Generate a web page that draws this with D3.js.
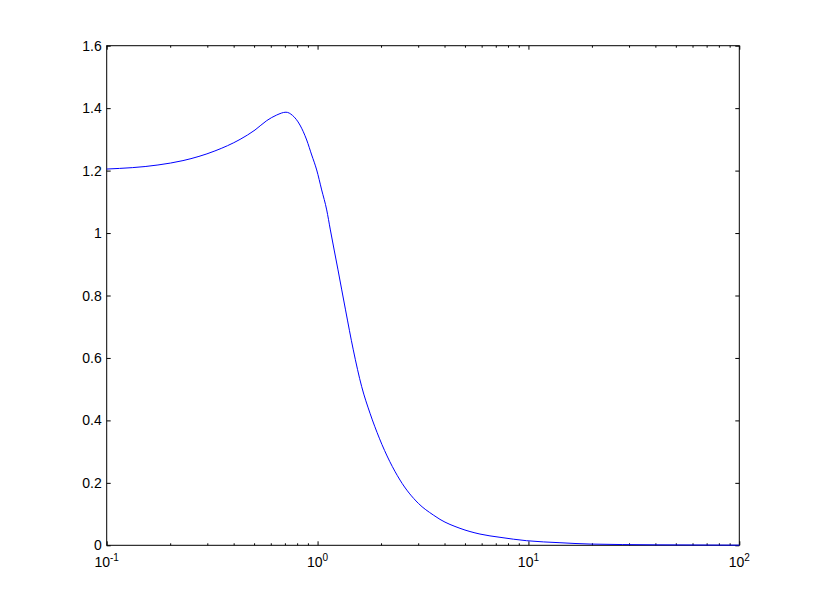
<!DOCTYPE html>
<html>
<head>
<meta charset="utf-8">
<script src="https://cdn.jsdelivr.net/npm/d3@7"></script>
<style>
  html, body { margin: 0; padding: 0; background: #fff; }
  svg { display: block; }
  text { font-family: "Liberation Sans", Arial, sans-serif; fill: #000; }
</style>
</head>
<body>
<svg id="chart" width="817" height="612"></svg>
<script>
// ---- data ----
const xValues = [0.1, 0.175, 0.23, 0.326, 0.429, 0.505, 0.574, 0.64, 0.708, 0.76, 0.825, 0.888, 0.938,
                 0.9906, 1.046, 1.105, 1.15, 1.25, 1.357, 1.477, 1.619, 1.773, 1.963, 2.46, 3.004,
                 3.539, 3.807, 4.736, 5.89, 7.33, 9.81, 14.11, 19.6, 40, 100];
const yValues = [1.205, 1.218, 1.232, 1.263, 1.300, 1.330, 1.360, 1.378, 1.387, 1.377, 1.346, 1.298, 1.250,
                 1.202, 1.138, 1.074, 1.010, 0.882, 0.754, 0.626, 0.508, 0.423, 0.343, 0.209, 0.1345,
                 0.097, 0.083, 0.0544, 0.036, 0.0256, 0.0147, 0.0083, 0.004, 0.0015, 0.0005];
const xDomain = [0.1, 100];
const yDomain = [0, 1.6];
const yTickValues = [0, 0.2, 0.4, 0.6, 0.8, 1.0, 1.2, 1.4, 1.6];
const yTickLabels = ["0", "0.2", "0.4", "0.6", "0.8", "1", "1.2", "1.4", "1.6"];
const xMajorTicks = [0.1, 1, 10, 100];
const xMajorExponents = ["-1", "0", "1", "2"];

(function () {
// ---- layout ----
const mLeft = 106.7, mRight = 739.3, mTop = 45.7, mBottom = 545.3;
const svg = d3.select("#chart");

const x = d3.scaleLog().domain(xDomain).range([mLeft, mRight]);
const y = d3.scaleLinear().domain(yDomain).range([mBottom, mTop]);

const xMinor = [];
for (let d = 0.1; d < 100; d *= 10) {
  for (let k = 2; k <= 9; k++) xMinor.push(+(d * k).toPrecision(3));
}

function styleAxis(g) {
  g.select(".domain").remove();
  g.selectAll("line").attr("stroke", "#000").attr("stroke-width", 1);
  g.selectAll("text").remove();
}

// bottom axis
svg.append("g").attr("transform", `translate(0,${mBottom})`)
  .call(d3.axisBottom(x).tickValues(xMajorTicks).tickSize(-4).tickFormat(""))
  .call(styleAxis);
svg.append("g").attr("transform", `translate(0,${mBottom})`)
  .call(d3.axisBottom(x).tickValues(xMinor).tickSize(-2).tickFormat(""))
  .call(styleAxis);
// top axis
svg.append("g").attr("transform", `translate(0,${mTop})`)
  .call(d3.axisTop(x).tickValues(xMajorTicks).tickSize(-4).tickFormat(""))
  .call(styleAxis);
svg.append("g").attr("transform", `translate(0,${mTop})`)
  .call(d3.axisTop(x).tickValues(xMinor).tickSize(-2).tickFormat(""))
  .call(styleAxis);
// left / right axes
svg.append("g").attr("transform", `translate(${mLeft},0)`)
  .call(d3.axisLeft(y).tickValues(yTickValues).tickSize(-4).tickFormat(""))
  .call(styleAxis);
svg.append("g").attr("transform", `translate(${mRight},0)`)
  .call(d3.axisRight(y).tickValues(yTickValues).tickSize(-4).tickFormat(""))
  .call(styleAxis);

// frame
svg.append("rect")
  .attr("x", mLeft).attr("y", mTop)
  .attr("width", mRight - mLeft).attr("height", mBottom - mTop)
  .attr("fill", "none").attr("stroke", "#000").attr("stroke-width", 1);

// y tick labels
svg.append("g").selectAll("text")
  .data(yTickValues)
  .join("text")
  .attr("x", mLeft - 5)
  .attr("y", d => y(d))
  .attr("dy", "0.36em")
  .attr("text-anchor", "end")
  .attr("font-size", 14)
  .text((d, i) => yTickLabels[i]);

// x tick labels (10^n)
const xl = svg.append("g").selectAll("text")
  .data(xMajorTicks)
  .join("text")
  .attr("x", d => x(d))
  .attr("y", mBottom + 22)
  .attr("text-anchor", "middle")
  .attr("font-size", 14);
xl.append("tspan").text("10");
xl.append("tspan")
  .attr("dy", -6)
  .attr("font-size", 10)
  .text((d, i) => xMajorExponents[i]);

// line
const line = d3.line()
  .x((d, i) => x(xValues[i]))
  .y(d => y(d))
  .curve(d3.curveMonotoneX);
svg.append("path")
  .datum(yValues)
  .attr("d", line)
  .attr("fill", "none")
  .attr("stroke", "#0000ff")
  .attr("stroke-width", 1);
})();
</script>
</body>
</html>
